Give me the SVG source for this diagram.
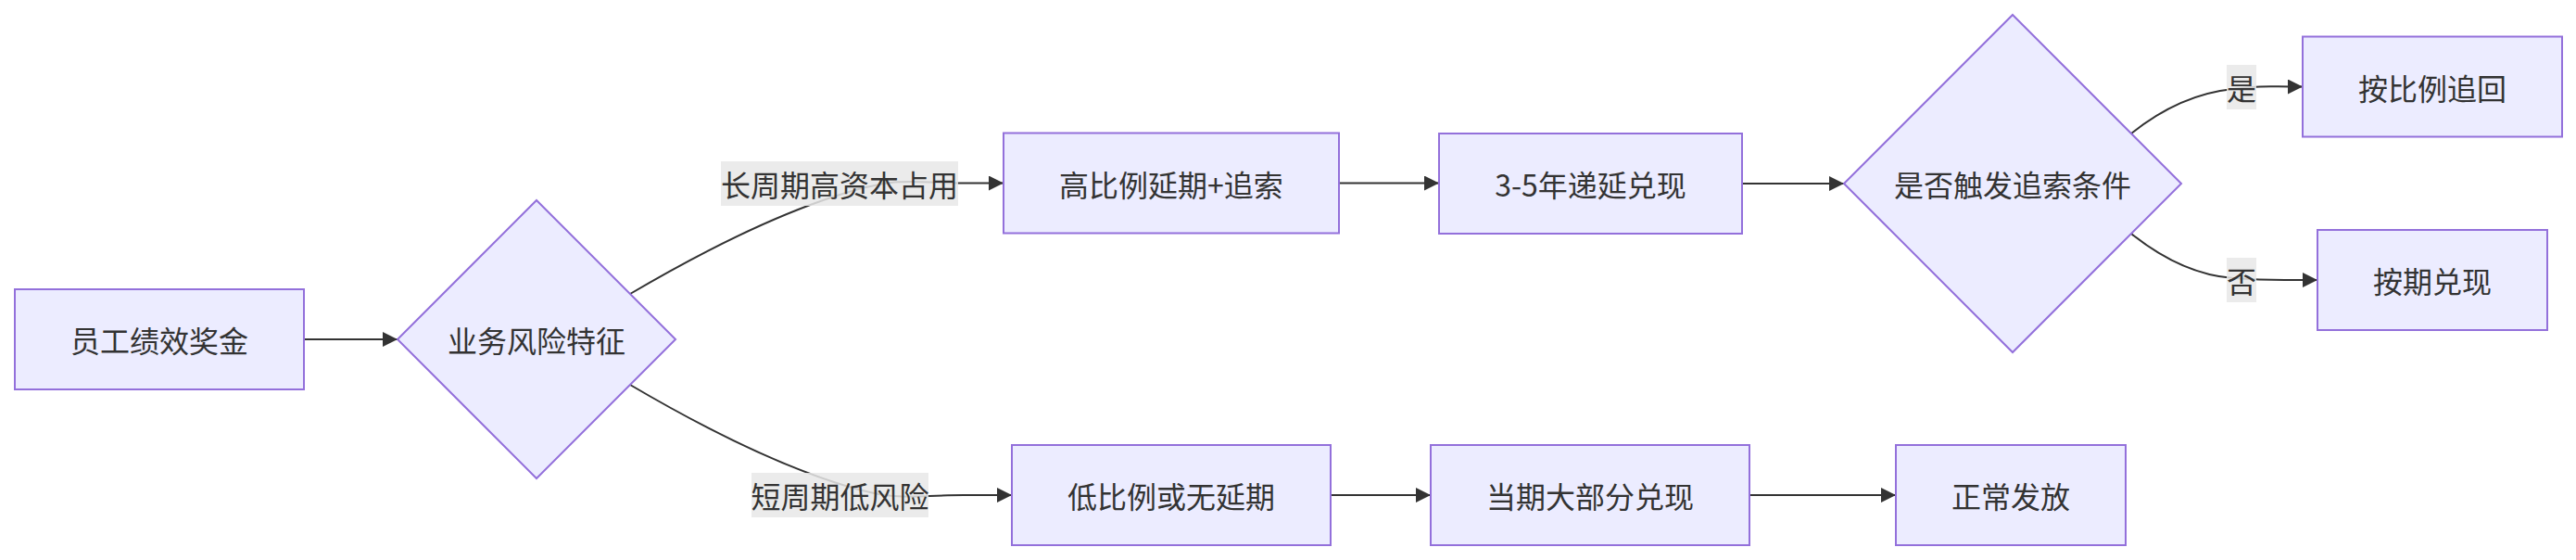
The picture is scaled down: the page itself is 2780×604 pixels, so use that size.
<svg xmlns="http://www.w3.org/2000/svg" width="2780" height="604" viewBox="0 0 2780 604">
<style>
.node rect,.node polygon{fill:#ECECFF;stroke:#9370DB;stroke-width:2}
text{font-family:"Noto Sans CJK SC","Noto Sans",sans-serif;font-size:32px;fill:#333;text-anchor:middle;dominant-baseline:central}
.edge{fill:none;stroke:#333;stroke-width:2;marker-end:url(#arr)}
.lbl rect{fill:#e8e8e8;opacity:0.85}
</style>
<defs>
<marker id="arr" viewBox="0 0 10 10" refX="10" refY="5" markerWidth="8" markerHeight="8" markerUnits="strokeWidth" orient="auto">
<path d="M0,0 L10,5 L0,10 z" fill="#333"/>
</marker>
</defs>
<rect width="2780" height="604" fill="#fff"/>
<g id="connectors">
<path class="edge" d="M328,366 L429,366"/>
<path class="edge" d="M680,317 C760,270 830,235 900,212 S980,197.5 1040,197.5 L1083,197.5"/>
<path class="edge" d="M680,415 C760,462 830,497 900,520 S980,534 1040,534 L1092,534"/>
<path class="edge" d="M1445,197.5 L1553,197.5"/>
<path class="edge" d="M1880,198 L1990,198"/>
<path class="edge" d="M2300,144 C2335,116 2370,100 2410,96 S2440,93.5 2485,93.5"/>
<path class="edge" d="M2300,252 C2335,280 2370,297 2410,300 S2445,302 2501,302"/>
<path class="edge" d="M1436,534 L1544,534"/>
<path class="edge" d="M1888,534 L2046,534"/>
</g>
<g id="labels">
<g class="lbl" id="lbl-long"><rect x="778" y="174" width="256" height="48"/><text x="906" y="198">长周期高资本占用</text></g>
<g class="lbl" id="lbl-short"><rect x="811" y="510" width="191" height="48"/><text x="906.5" y="534">短周期低风险</text></g>
<g class="lbl" id="lbl-yes"><rect x="2403" y="70" width="32" height="48"/><text x="2419" y="94">是</text></g>
<g class="lbl" id="lbl-no"><rect x="2403" y="278" width="32" height="48"/><text x="2419" y="302">否</text></g>
</g>
<g class="node" id="A"><rect x="16" y="312" width="312" height="108"/><text x="172" y="366">员工绩效奖金</text></g>
<g class="node" id="B"><polygon points="579,216 729,366 579,516 429,366"/><text x="579" y="366">业务风险特征</text></g>
<g class="node" id="C"><rect x="1083" y="143.5" width="362" height="108"/><text x="1264" y="197.5">高比例延期+追索</text></g>
<g class="node" id="D"><rect x="1553" y="144" width="327" height="108"/><text x="1716.5" y="198">3-5年递延兑现</text></g>
<g class="node" id="E"><polygon points="2172,16 2354,198 2172,380 1990,198"/><text x="2172" y="198">是否触发追索条件</text></g>
<g class="node" id="F"><rect x="2485" y="39.5" width="280" height="108"/><text x="2625" y="93.5">按比例追回</text></g>
<g class="node" id="G"><rect x="2501" y="248" width="248" height="108"/><text x="2625" y="302">按期兑现</text></g>
<g class="node" id="H"><rect x="1092" y="480" width="344" height="108"/><text x="1264" y="534">低比例或无延期</text></g>
<g class="node" id="I"><rect x="1544" y="480" width="344" height="108"/><text x="1716" y="534">当期大部分兑现</text></g>
<g class="node" id="J"><rect x="2046" y="480" width="248" height="108"/><text x="2170" y="534">正常发放</text></g>
</svg>
